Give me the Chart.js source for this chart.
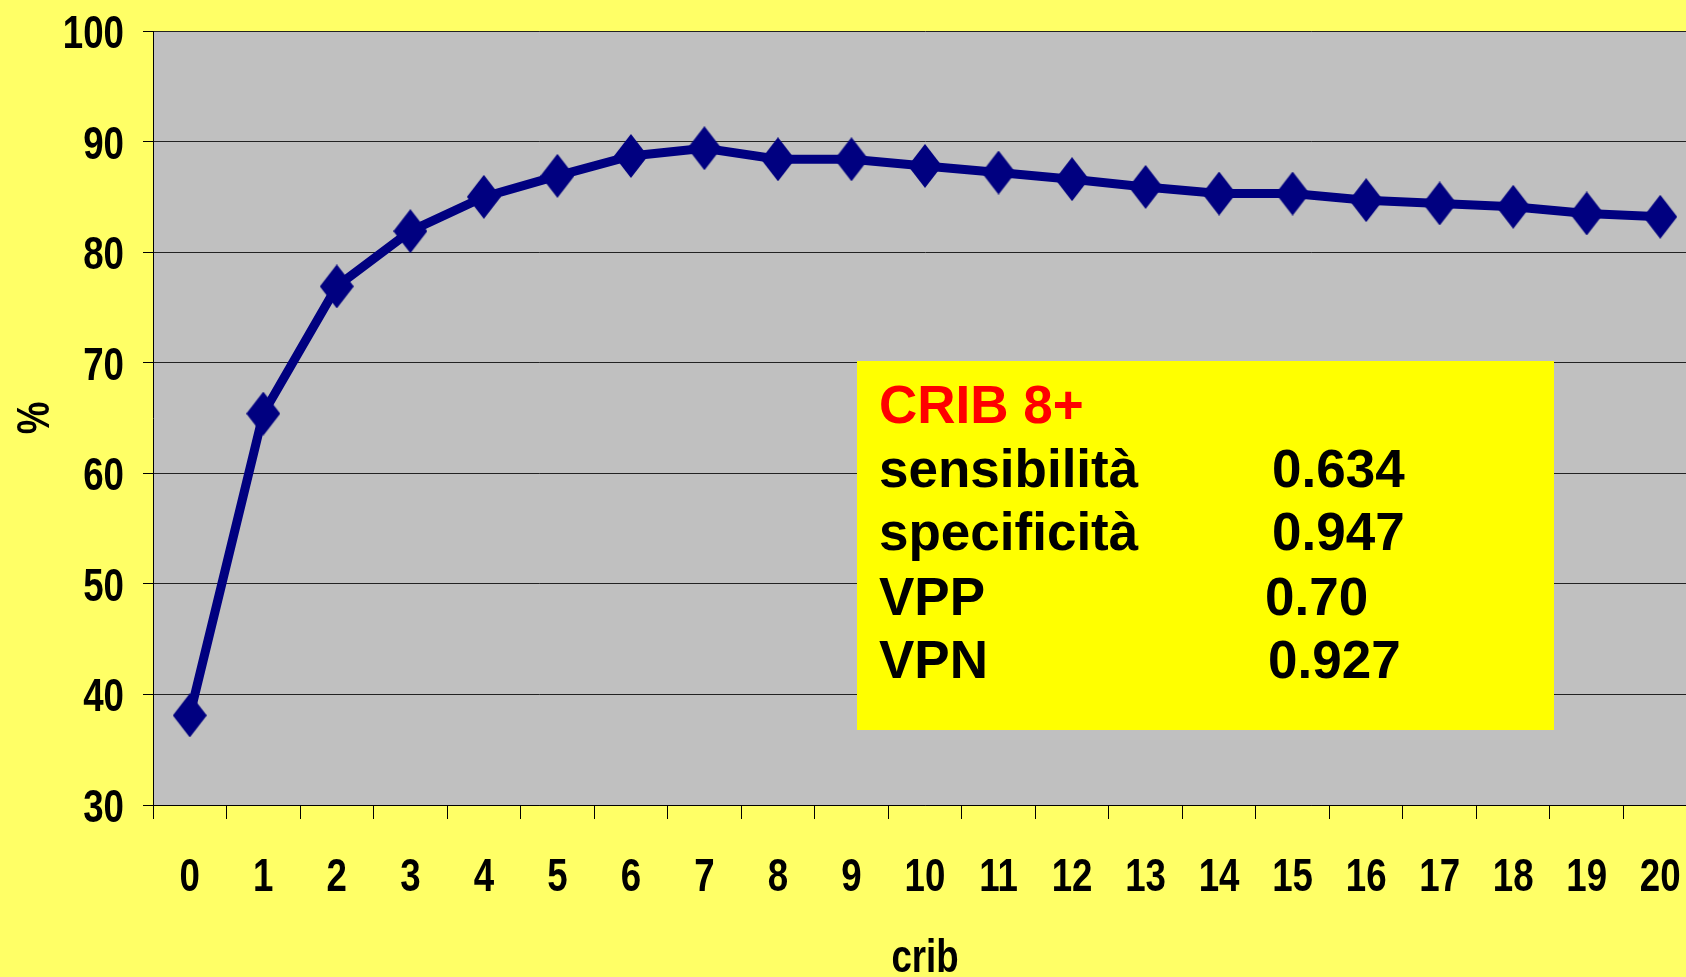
<!DOCTYPE html>
<html>
<head>
<meta charset="utf-8">
<title>CRIB</title>
<script src="https://cdn.jsdelivr.net/npm/chart.js@4.4.1/dist/chart.umd.min.js"></script>
<style>
  html, body { margin: 0; padding: 0; background: #FFFF66; overflow: hidden; }
  #wrap { position: relative; width: 1686px; height: 977px; overflow: hidden; }
  #chartBox { position: absolute; left: 0; top: 0; width: 1697px; height: 977px; }
  #statBox {
    position: absolute; left: 857px; top: 361px; width: 697px; height: 369px;
    background: #FFFF00; font-family: 'Liberation Sans', Arial, sans-serif;
    font-weight: bold; font-size: 53px; line-height: 53px; color: #000;
  }
  #statBox div { position: absolute; white-space: nowrap; }
  #statBox .title { color: #FF0000; }
</style>
</head>
<body>
<div id="wrap">
  <div id="chartBox"><canvas id="cribChart"></canvas></div>
  <div id="statBox"></div>
</div>
<script>
// Chart data
const categories = ['0', '1', '2', '3', '4', '5', '6', '7', '8', '9', '10',
  '11', '12', '13', '14', '15', '16', '17', '18', '19', '20'];
const percentValues = [38.1, 65.4, 76.9, 81.9, 85.0, 86.9, 88.7, 89.4, 88.4, 88.4, 87.8,
  87.2, 86.6, 85.9, 85.3, 85.3, 84.7, 84.4, 84.1, 83.5, 83.2];
const yMin = 30;
const yMax = 100;
const yStep = 10;
const xTitle = 'crib';
const yTitle = '%';

// Text box
const boxTitle = 'CRIB 8+';
const statLabels = ['sensibilità', 'specificità', 'VPP', 'VPN'];
const statValues = ['0.634', '0.947', '0.70', '0.927'];

// Narrow bold look (Arial Narrow is not installed, so squeeze Liberation Sans)
const NARROW = 0.78;
const LABEL_FONT = "bold 47px 'Liberation Sans', Arial, sans-serif";

/**
 * Tall diamond marker (Excel style)
 */
function makeDiamond(w, h, color) {
  const c = document.createElement('canvas');
  c.width = w;
  c.height = h;
  const g = c.getContext('2d');
  g.fillStyle = color;
  g.beginPath();
  g.moveTo(w / 2, 0);
  g.lineTo(w, h / 2);
  g.lineTo(w / 2, h);
  g.lineTo(0, h / 2);
  g.closePath();
  g.fill();
  return c;
}

function drawNarrow(ctx, text, x, y, align, angle) {
  ctx.save();
  ctx.translate(x, y);
  if (angle) ctx.rotate(angle);
  ctx.scale(NARROW, 1);
  ctx.font = LABEL_FONT;
  ctx.fillStyle = '#000';
  ctx.textAlign = align;
  ctx.textBaseline = 'alphabetic';
  ctx.fillText(text, 0, 0);
  ctx.restore();
}

// grey plot area background
const plotBackground = {
  id: 'plotBackground',
  beforeDraw(chart) {
    const { ctx, chartArea } = chart;
    ctx.save();
    ctx.fillStyle = '#C0C0C0';
    ctx.fillRect(chartArea.left, chartArea.top, chartArea.right - chartArea.left, chartArea.bottom - chartArea.top);
    ctx.restore();
  },
};

// tick labels and axis titles in narrow bold
const narrowLabels = {
  id: 'narrowLabels',
  afterDraw(chart) {
    const { ctx, chartArea } = chart;
    const xs = chart.scales.x;
    const ys = chart.scales.y;

    ys.ticks.forEach((t, i) => {
      drawNarrow(ctx, String(t.value), chartArea.left - 29, ys.getPixelForTick(i) + 17, 'right');
    });
    xs.ticks.forEach((t, i) => {
      drawNarrow(ctx, xs.getLabelForValue(t.value), xs.getPixelForTick(i), chartArea.bottom + 86, 'center');
    });

    drawNarrow(ctx, xTitle, (chartArea.left + chartArea.right) / 2, chartArea.bottom + 167, 'center');
    drawNarrow(ctx, yTitle, 49, (chartArea.top + chartArea.bottom) / 2, 'center', -Math.PI / 2);
  },
};

function renderChart() {
  const ctx = document.getElementById('cribChart').getContext('2d');
  const diamond = makeDiamond(34, 44, '#000080');

  new Chart(ctx, {
    type: 'line',
    data: {
      labels: categories,
      datasets: [
        {
          data: percentValues,
          borderColor: '#000080',
          borderWidth: 9,
          tension: 0,
          pointStyle: diamond,
          pointRadius: 22,
        },
      ],
    },
    options: {
      responsive: true,
      maintainAspectRatio: false,
      animation: false,
      layout: { autoPadding: false, padding: { top: 31, left: 0, right: 0, bottom: 0 } },
      plugins: {
        legend: { display: false },
        tooltip: { enabled: false },
      },
      scales: {
        x: {
          offset: true,
          grid: { offset: true, drawOnChartArea: false, drawTicks: true, tickLength: 14, tickColor: '#000', tickWidth: 1 },
          border: { color: '#000', width: 1 },
          ticks: { display: false, autoSkip: false },
          afterFit(scale) { scale.height = 172; },
        },
        y: {
          min: yMin,
          max: yMax,
          ticks: { display: false, stepSize: yStep },
          grid: { color: '#222', lineWidth: 1, tickLength: 10, tickColor: '#000' },
          border: { color: '#000', width: 1 },
          afterFit(scale) { scale.width = 153; },
        },
      },
    },
    plugins: [plotBackground, narrowLabels],
  });
}

/**
 * Fill the yellow statistics box
 */
function renderStatBox() {
  const box = document.getElementById('statBox');
  const labelLeft = 22;
  const valueLefts = [415, 415, 408, 411];
  const rowTops = [81, 144, 209, 272];

  const title = document.createElement('div');
  title.className = 'title';
  title.style.left = labelLeft + 'px';
  title.style.top = '17px';
  title.textContent = boxTitle;
  box.appendChild(title);

  statLabels.forEach((label, i) => {
    const l = document.createElement('div');
    l.style.left = labelLeft + 'px';
    l.style.top = rowTops[i] + 'px';
    l.textContent = label;
    box.appendChild(l);

    const v = document.createElement('div');
    v.style.left = valueLefts[i] + 'px';
    v.style.top = rowTops[i] + 'px';
    v.textContent = statValues[i];
    box.appendChild(v);
  });
}

renderChart();
renderStatBox();
</script>
</body>
</html>
